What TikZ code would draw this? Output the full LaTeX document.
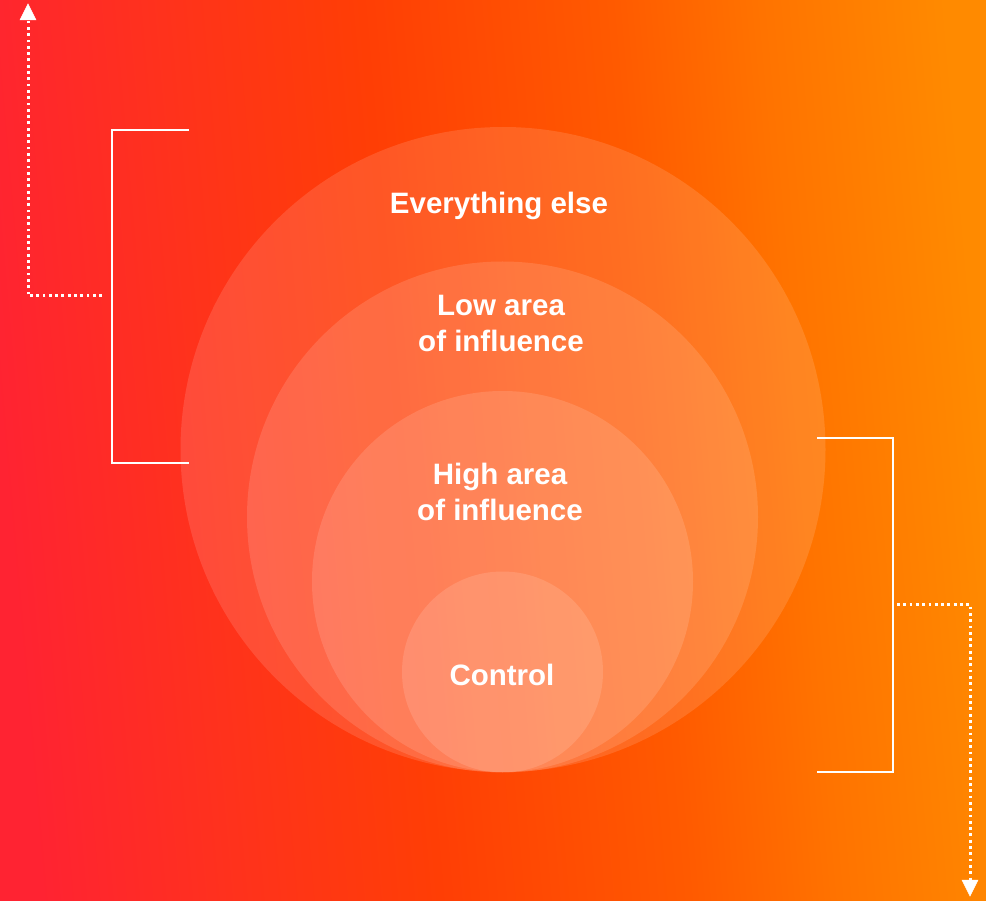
\documentclass[tikz,border=0pt]{standalone}
\usepackage{fontspec}
\setmainfont{Liberation Sans}
\definecolor{bgA}{RGB}{255,35,50}
\definecolor{bgB}{RGB}{255,50,28}
\definecolor{bgC}{RGB}{255,62,5}
\definecolor{bgD}{RGB}{255,90,0}
\definecolor{bgE}{RGB}{255,115,0}
\definecolor{bgF}{RGB}{255,138,0}
\pgfdeclarehorizontalshading{bgshade}{100bp}{color(0bp)=(bgA); color(25bp)=(bgA); color(35.1bp)=(bgB); color(45.3bp)=(bgC); color(58bp)=(bgD); color(65.6bp)=(bgE); color(75bp)=(bgF); color(100bp)=(bgF)}
\tikzset{
  ring/.style={circle, fill=white, fill opacity=0.13, draw=none, inner sep=0pt, minimum size=#1},
  lbl/.style={text=white, font=\fontsize{29.5}{36}\selectfont\bfseries, align=center, inner sep=0pt},
  bracket/.style={draw=white, line width=2.2pt},
  dotline/.style={draw=white, line width=3pt, dash pattern=on 2.8pt off 3.5pt},
  headtri/.style={draw=white, fill=white, line width=0.5pt}
}
\begin{document}
\begin{tikzpicture}[x=1pt,y=-1pt]
\useasboundingbox (0,0) rectangle (986,901);
\shade[shading=bgshade, shading angle=5] (0,0) rectangle (986,901);
% circles
\node[ring=645pt] (outer) at (503,449.5) {};
\node[ring=511pt] (low) at (502.5,517) {};
\node[ring=381pt] (high) at (502.5,581.5) {};
\node[ring=201pt] (ctrl) at (502.5,672) {};
% labels
\node[lbl] (tOuter) at (499,206) {Everything else};
\node[lbl] (tLow) at (501,323.5) {Low area\\of influence};
\node[lbl] (tHigh) at (500,491.5) {High area\\of influence};
\node[lbl] (tCtrl) at (502,675) {Control};
% left bracket
\coordinate (lbT) at (189,130);
\coordinate (lbB) at (189,463);
\coordinate (lbX) at (112,130);
\coordinate (lbY) at (112,463);
\draw[bracket] (lbT) -- (lbX) -- (lbY) -- (lbB);
\coordinate (ldS) at (102,296);
\coordinate (ldC) at (28,296);
\coordinate (ldE) at (28,4);
\draw[dotline] (ldS) -- (ldC) -- ([yshift=-14pt]ldE);
\draw[headtri] (ldE) -- ++(-8,16) -- ++(16,0) -- cycle;
% right bracket
\coordinate (rbT) at (817,438);
\coordinate (rbB) at (817,772);
\coordinate (rbX) at (893,438);
\coordinate (rbY) at (893,772);
\draw[bracket] (rbT) -- (rbX) -- (rbY) -- (rbB);
\coordinate (rdS) at (897,604);
\coordinate (rdC) at (970,604);
\coordinate (rdE) at (970,896);
\draw[dotline] (rdS) -- (rdC) -- ([yshift=14pt]rdE);
\draw[headtri] (rdE) -- ++(-8,-16) -- ++(16,0) -- cycle;
\end{tikzpicture}
\end{document}
